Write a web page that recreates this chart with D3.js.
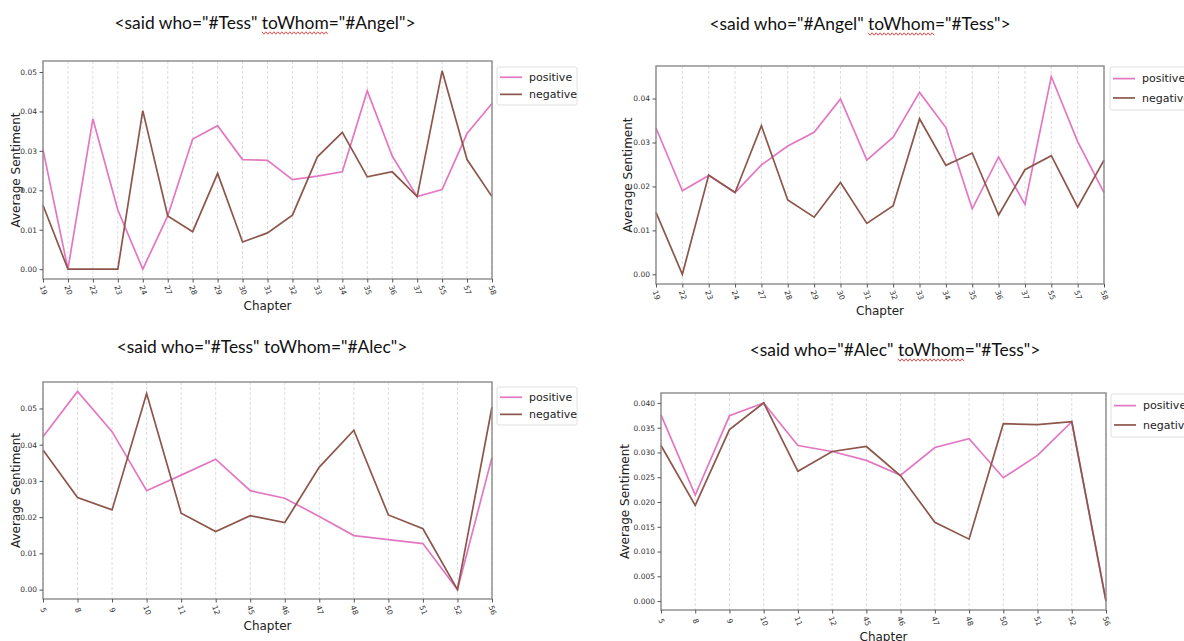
<!DOCTYPE html>
<html>
<head>
<meta charset="utf-8">
<script src="https://cdn.jsdelivr.net/npm/d3@7"></script>
<style>
  body { margin: 0; background: #fff; }
  svg { display: block; }
</style>
</head>
<body>
<svg id="chart" width="1184" height="641"></svg>
<script>
// ---- data ----
var chaptersTessAngel = ["19","20","22","23","24","27","28","29","30","31","32","33","34","35","36","37","55","57","58"];
var posTessAngel = [0.0303,0.0,0.0381,0.0150,0.0,0.0135,0.0330,0.0364,0.0278,0.0276,0.0227,0.0236,0.0247,0.0452,0.0287,0.0184,0.0202,0.0344,0.0420];
var negTessAngel = [0.0162,0.0,0.0,0.0,0.0402,0.0135,0.0095,0.0243,0.0069,0.0092,0.0137,0.0285,0.0347,0.0234,0.0247,0.0184,0.0503,0.0278,0.0184];

var chaptersAngelTess = ["19","22","23","24","27","28","29","30","31","32","33","34","35","36","37","55","57","58"];
var posAngelTess = [0.0333,0.0190,0.0225,0.0186,0.0249,0.0292,0.0323,0.0399,0.0260,0.0312,0.0414,0.0334,0.0149,0.0267,0.0159,0.0450,0.0302,0.0186];
var negAngelTess = [0.0141,0.0,0.0226,0.0186,0.0338,0.0169,0.0130,0.0209,0.0116,0.0156,0.0354,0.0248,0.0276,0.0135,0.0238,0.0270,0.0153,0.0260];

var chaptersTessAlec = ["5","8","9","10","11","12","45","46","47","48","50","51","52","56"];
var posTessAlec = [0.0422,0.0547,0.0436,0.0273,0.0316,0.0360,0.0273,0.0252,0.0202,0.0149,0.0138,0.0127,0.0,0.0365];
var negTessAlec = [0.0385,0.0254,0.0220,0.0541,0.0211,0.0160,0.0204,0.0185,0.0338,0.0440,0.0206,0.0168,0.0,0.0504];

var chaptersAlecTess = ["5","8","9","10","11","12","45","46","47","48","50","51","52","56"];
var posAlecTess = [0.0376,0.0214,0.0374,0.0400,0.0314,0.0302,0.0284,0.0254,0.0310,0.0328,0.0249,0.0294,0.0362,0.0];
var negAlecTess = [0.0314,0.0193,0.0346,0.0400,0.0262,0.0302,0.0312,0.0253,0.0159,0.0125,0.0358,0.0356,0.0362,0.0];

var ticksA = [0, 0.01, 0.02, 0.03, 0.04, 0.05];
var ticksB = [0, 0.01, 0.02, 0.03, 0.04];
var ticksC = [0, 0.005, 0.01, 0.015, 0.02, 0.025, 0.03, 0.035, 0.04];

var titles = [
  {pre: '<said who="#Tess" ', mark: 'toWhom', post: '="#Angel">'},
  {pre: '<said who="#Angel" ', mark: 'toWhom', post: '="#Tess">'},
  {pre: '<said who="#Tess" ', mark: 'toWhom', post: '="#Alec">'},
  {pre: '<said who="#Alec" ', mark: 'toWhom', post: '="#Tess">'}
];
var seriesNames = ["positive", "negative"];

// ---- layout ----
var colors = {positive: "#e377c2", negative: "#8c564b"};
var panels = [
  {cats: chaptersTessAngel, pos: posTessAngel, neg: negTessAngel, ticks: ticksA, fmt: ".2f",
   l: 43, r: 492, t: 61, b: 279, dom: [-0.0025, 0.0528], title: titles[0], tx: 265, ty: 23, wavy: true,
   ylx: 16, leg: {x: 497, y: 67, w: 80, h: 38}},
  {cats: chaptersAngelTess, pos: posAngelTess, neg: negAngelTess, ticks: ticksB, fmt: ".2f",
   l: 656, r: 1104, t: 66, b: 284, dom: [-0.0022, 0.0474], title: titles[1], tx: 860, ty: 24, wavy: true,
   ylx: 628, leg: {x: 1110, y: 67, w: 84, h: 43}},
  {cats: chaptersTessAlec, pos: posTessAlec, neg: negTessAlec, ticks: ticksA, fmt: ".2f",
   l: 43, r: 492, t: 382, b: 599, dom: [-0.0026, 0.0573], title: titles[2], tx: 262, ty: 347, wavy: false,
   ylx: 16, leg: {x: 497, y: 387, w: 80, h: 38}},
  {cats: chaptersAlecTess, pos: posAlecTess, neg: negAlecTess, ticks: ticksC, fmt: ".3f",
   l: 661, r: 1106, t: 393, b: 610, dom: [-0.0018, 0.042], title: titles[3], tx: 895, ty: 350, wavy: true,
   ylx: 625, leg: {x: 1111, y: 394, w: 84, h: 43}}
];

var svg = d3.select("#chart");
var plotFont = "DejaVu Sans, sans-serif";

panels.forEach(function(p) {
  var g = svg.append("g");

  var x = d3.scalePoint().domain(p.cats).range([p.l, p.r]);
  var y = d3.scaleLinear().domain(p.dom).range([p.b, p.t]);

  // vertical dashed grid
  g.selectAll(".grid").data(p.cats).enter().append("line")
    .attr("x1", function(d) { return x(d); })
    .attr("x2", function(d) { return x(d); })
    .attr("y1", p.t).attr("y2", p.b)
    .attr("stroke", "#d4d4d4").attr("stroke-width", 0.8)
    .attr("stroke-dasharray", "3,2");

  // lines
  var line = d3.line()
    .x(function(d, i) { return x(p.cats[i]); })
    .y(function(d) { return y(d); });

  g.append("path").datum(p.pos).attr("d", line)
    .attr("fill", "none").attr("stroke", colors.positive).attr("stroke-width", 1.7);
  g.append("path").datum(p.neg).attr("d", line)
    .attr("fill", "none").attr("stroke", colors.negative).attr("stroke-width", 1.7);

  // frame
  g.append("rect").attr("x", p.l).attr("y", p.t)
    .attr("width", p.r - p.l).attr("height", p.b - p.t)
    .attr("fill", "none").attr("stroke", "#8a8a8a").attr("stroke-width", 1.4);

  // y axis
  var yAxis = g.append("g").attr("transform", "translate(" + p.l + ",0)")
    .call(d3.axisLeft(y).tickValues(p.ticks).tickFormat(d3.format(p.fmt)).tickSize(3.5).tickPadding(2.5));
  yAxis.select(".domain").remove();
  yAxis.selectAll("line").attr("stroke", "#555");
  yAxis.selectAll("text").attr("font-family", plotFont).attr("font-size", 7.5).attr("fill", "#333");

  // x axis
  var xAxis = g.append("g").attr("transform", "translate(0," + p.b + ")")
    .call(d3.axisBottom(x).tickSize(3.5).tickPadding(2));
  xAxis.select(".domain").remove();
  xAxis.selectAll("line").attr("stroke", "#555");
  xAxis.selectAll("text")
    .attr("font-family", plotFont).attr("font-size", 7.5).attr("fill", "#333")
    .attr("text-anchor", "middle")
    .attr("y", 0).attr("dy", "0.35em")
    .attr("transform", "translate(0,11) rotate(70)");

  // axis labels
  g.append("text")
    .attr("transform", "translate(" + p.ylx + "," + ((p.t + p.b) / 2) + ") rotate(-90)")
    .attr("text-anchor", "middle").attr("dy", "0.35em")
    .attr("font-family", plotFont).attr("font-size", 12).attr("fill", "#222")
    .text("Average Sentiment");
  g.append("text")
    .attr("x", (p.l + p.r) / 2).attr("y", p.b + 31)
    .attr("text-anchor", "middle")
    .attr("font-family", plotFont).attr("font-size", 12).attr("fill", "#222")
    .text("Chapter");

  // legend
  var lg = g.append("g").attr("transform", "translate(" + p.leg.x + "," + p.leg.y + ")");
  lg.append("rect").attr("width", p.leg.w).attr("height", p.leg.h).attr("rx", 2)
    .attr("fill", "#fff").attr("stroke", "#e0e0e0");
  seriesNames.forEach(function(name, i) {
    var yy = p.leg.h * (0.27 + 0.45 * i);
    lg.append("line").attr("x1", 3).attr("x2", 25).attr("y1", yy).attr("y2", yy)
      .attr("stroke", colors[name]).attr("stroke-width", 1.7);
    lg.append("text").attr("x", 32).attr("y", yy).attr("dy", "0.35em")
      .attr("font-family", plotFont).attr("font-size", 11).attr("fill", "#222")
      .text(name);
  });

  // title
  var tt = g.append("text")
    .attr("x", p.tx).attr("y", p.ty).attr("dy", "0.35em")
    .attr("text-anchor", "middle")
    .attr("font-family", "Lato, sans-serif").attr("font-size", 17.4).attr("fill", "#111");
  tt.text(p.title.pre + p.title.mark + p.title.post);

  if (p.wavy) {
    var node = tt.node();
    var start = p.title.pre.length;
    var x0 = node.getStartPositionOfChar(start).x;
    var x1 = node.getEndPositionOfChar(start + p.title.mark.length - 1).x;
    var wy = p.ty + 10;
    var pts = [];
    for (var wx = x0, k = 0; wx <= x1; wx += 2, k++) {
      pts.push([wx, wy + (k % 2 ? 1.2 : -1.2)]);
    }
    g.append("path").attr("d", d3.line()(pts))
      .attr("fill", "none").attr("stroke", "#e02020").attr("stroke-width", 0.8);
  }
});
</script>
</body>
</html>
